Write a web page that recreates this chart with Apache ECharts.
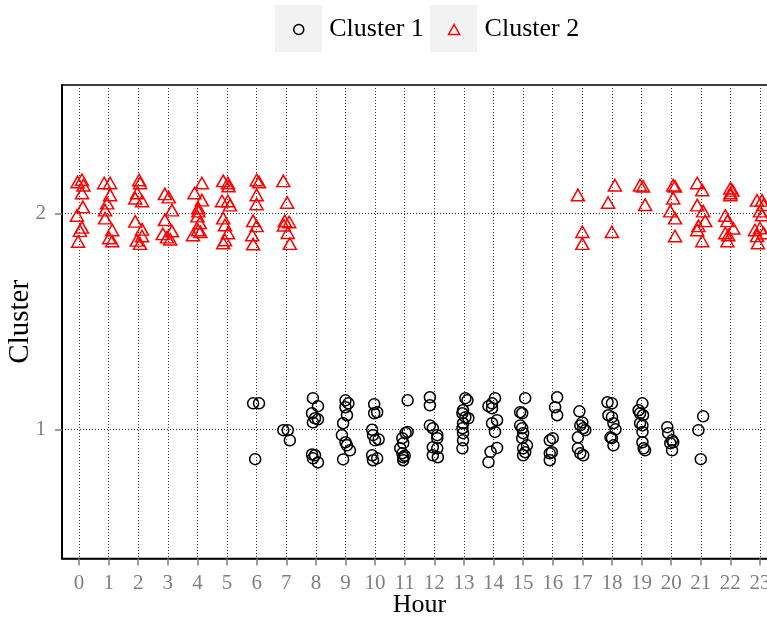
<!DOCTYPE html>
<html>
<head>
<meta charset="utf-8">
<script src="https://cdn.jsdelivr.net/npm/echarts@6/dist/echarts.min.js"></script>
<style>
  html, body { margin: 0; padding: 0; background: #fff; }
  #chart { width: 767px; height: 622px; }
</style>
</head>
<body>
<div id="chart"></div>
<script>
// Hour of day shown on the x axis
const hours = [0, 1, 2, 3, 4, 5, 6, 7, 8, 9, 10, 11, 12, 13, 14, 15, 16, 17, 18, 19, 20, 21, 22, 23];
// Cluster ids shown on the y axis
const clusterTicks = [1, 2];
const seriesNames = ['Cluster 1', 'Cluster 2'];

// Jittered observations: [hour, cluster]
const cluster1Points = [
  [5.88, 1.122], [6.08, 1.122], [5.95, 0.864],
  [6.90, 0.998], [7.05, 0.998], [7.12, 0.951],
  [7.90, 1.146], [8.07, 1.109], [7.87, 1.076], [7.97, 1.053], [8.07, 1.048], [7.90, 1.034], [7.87, 0.886], [7.97, 0.882], [7.90, 0.868], [8.07, 0.849],
  [9.00, 1.136], [9.10, 1.122], [9.00, 1.104], [9.05, 1.067], [8.92, 1.030], [8.88, 0.975], [9.00, 0.942], [9.05, 0.928], [9.15, 0.905], [8.92, 0.863],
  [9.97, 1.118], [10.07, 1.081], [9.97, 1.076], [9.90, 1.000], [9.93, 0.975], [10.00, 0.951], [9.90, 0.882], [10.07, 0.868], [9.93, 0.859], [10.12, 0.955],
  [11.10, 1.136], [11.10, 0.990], [11.03, 0.985], [10.92, 0.961], [10.95, 0.938], [10.85, 0.915], [10.92, 0.891], [10.95, 0.873], [10.95, 0.859], [11.00, 0.880],
  [11.85, 1.150], [11.85, 1.113], [11.85, 1.020], [11.95, 1.007], [12.10, 0.975], [12.10, 0.961], [11.95, 0.919], [12.10, 0.914], [11.95, 0.882], [12.12, 0.873],
  [13.05, 1.146], [13.12, 1.136], [12.97, 1.090], [12.95, 1.076], [13.05, 1.058], [13.15, 1.053], [12.97, 1.030], [12.95, 1.007], [12.97, 0.984], [12.97, 0.951], [12.95, 0.914],
  [14.05, 1.146], [13.95, 1.122], [13.83, 1.109], [13.95, 1.099], [14.12, 1.044], [13.95, 1.030], [14.05, 0.990], [13.90, 0.898], [14.12, 0.916], [13.83, 0.850],
  [15.07, 1.146], [14.90, 1.081], [14.97, 1.076], [14.90, 1.020], [14.97, 1.007], [15.00, 0.984], [14.97, 0.961], [15.13, 0.928], [15.00, 0.914], [15.07, 0.896], [15.00, 0.882],
  [16.15, 1.150], [16.08, 1.104], [16.15, 1.067], [16.00, 0.961], [15.90, 0.951], [15.97, 0.896], [15.90, 0.891], [15.90, 0.859],
  [16.90, 1.085], [17.00, 1.034], [16.93, 1.020], [17.03, 1.007], [17.10, 0.998], [16.85, 0.965], [16.85, 0.914], [16.93, 0.891], [17.03, 0.882],
  [17.85, 1.127], [18.00, 1.122], [17.88, 1.067], [18.00, 1.058], [18.05, 1.030], [18.12, 1.002], [17.95, 0.965], [18.00, 0.961], [18.05, 0.928],
  [19.03, 1.122], [18.90, 1.090], [18.95, 1.076], [19.05, 1.067], [18.95, 1.030], [19.03, 1.020], [19.03, 0.990], [19.03, 0.942], [19.12, 0.905], [19.07, 0.914],
  [19.87, 1.012], [19.90, 0.984], [20.03, 0.951], [20.07, 0.942], [19.97, 0.938], [20.03, 0.905],
  [21.08, 1.062], [20.92, 0.998], [21.00, 0.864]
];

const cluster2Points = [
  [-0.05, 2.145], [0.10, 2.155], [0.15, 2.130], [0.10, 2.094], [0.13, 2.030], [-0.07, 1.990], [0.10, 1.935], [0.03, 1.920], [-0.03, 1.870],
  [0.85, 2.140], [1.05, 2.140], [1.05, 2.085], [0.95, 2.047], [0.88, 2.015], [0.88, 1.978], [1.12, 1.923], [1.02, 1.886], [1.12, 1.872],
  [2.03, 2.154], [2.06, 2.140], [1.96, 2.094], [1.90, 2.070], [2.13, 2.057], [1.90, 1.963], [2.13, 1.926], [2.13, 1.895], [2.06, 1.860], [1.95, 1.875],
  [2.90, 2.090], [3.03, 2.075], [3.14, 2.015], [2.90, 1.970], [3.14, 1.918], [2.83, 1.905], [2.97, 1.890], [3.08, 1.880],
  [4.15, 2.140], [3.90, 2.094], [4.15, 2.061], [4.03, 2.024], [4.03, 2.010], [4.00, 1.987], [4.08, 1.956], [4.02, 1.923], [3.85, 1.900], [4.10, 1.915],
  [4.87, 2.150], [5.03, 2.140], [5.05, 2.126], [4.83, 2.057], [5.03, 2.057], [5.10, 2.038], [4.87, 1.978], [4.93, 1.946], [5.03, 1.909], [4.93, 1.877], [4.87, 1.863],
  [6.00, 2.154], [6.08, 2.145], [6.00, 2.085], [6.00, 2.043], [5.88, 1.965], [6.00, 1.942], [5.85, 1.900], [5.88, 1.858],
  [6.90, 2.150], [7.03, 2.050], [6.95, 1.965], [7.10, 1.960], [6.92, 1.945], [7.05, 1.910], [7.12, 1.860],
  [16.85, 2.085], [17.00, 1.915], [17.00, 1.860],
  [18.10, 2.130], [17.87, 2.050], [18.00, 1.915],
  [18.95, 2.130], [19.05, 2.125], [19.12, 2.040],
  [20.07, 2.130], [20.13, 2.125], [20.07, 2.070], [19.97, 2.010], [20.13, 1.978], [20.13, 1.895],
  [20.88, 2.140], [21.05, 2.108], [20.88, 2.038], [21.08, 2.010], [21.15, 1.965], [20.92, 1.942], [20.88, 1.923], [21.05, 1.872],
  [22.00, 2.116], [22.07, 2.106], [22.00, 2.094], [22.00, 2.085], [21.83, 1.990], [21.90, 1.965], [22.10, 1.931], [21.83, 1.909], [21.93, 1.900], [21.90, 1.872],
  [22.90, 2.060], [23.07, 2.060], [23.12, 2.040], [23.00, 2.010], [23.07, 1.992], [22.83, 1.923], [23.00, 1.932], [22.90, 1.896], [22.93, 1.863], [23.12, 1.909]
];

const SERIF = "'Liberation Serif', 'DejaVu Serif', serif";
const GREY = '#7f7f7f';
const gridLine = { color: '#333', width: 1, type: [1, 2] };

const chart = echarts.init(document.getElementById('chart'), null, { renderer: 'canvas' });

chart.setOption({
  animation: false,
  backgroundColor: '#fff',
  textStyle: { fontFamily: SERIF },
  // grey key backgrounds behind the legend symbols
  graphic: [
    { type: 'rect', left: 275, top: 5, z: 0, shape: { width: 47, height: 47 }, style: { fill: '#f2f2f2' } },
    { type: 'rect', left: 430, top: 5, z: 0, shape: { width: 47, height: 47 }, style: { fill: '#f2f2f2' } }
  ],
  legend: {
    z: 10,
    left: 288,
    top: 11.5,
    padding: 5,
    orient: 'horizontal',
    itemWidth: 11,
    itemHeight: 10,
    itemGap: 24,
    symbolKeepAspect: true,
    textStyle: { fontFamily: SERIF, fontSize: 26, color: '#000', padding: [0, 0, 0, 20] },
    data: [
      { name: seriesNames[0], icon: 'circle', itemStyle: { color: 'rgba(0,0,0,0)', borderColor: '#000', borderWidth: 1.5 } },
      { name: seriesNames[1], icon: 'triangle', itemStyle: { color: 'rgba(0,0,0,0)', borderColor: '#ff0000', borderWidth: 1.5 } }
    ]
  },
  grid: {
    left: 62,
    top: 85,
    right: -10,
    bottom: 63.5,
    show: true,
    borderColor: '#000',
    borderWidth: 1.5,
    backgroundColor: '#fff',
    containLabel: false,
    outerBoundsMode: 'none'
  },
  xAxis: {
    type: 'value',
    min: -0.575,
    max: 23.575,
    splitNumber: 24,
    minInterval: 1,
    maxInterval: 1,
    name: 'Hour',
    nameLocation: 'middle',
    nameGap: 34,
    nameMoveOverlap: false,
    nameTextStyle: { fontFamily: SERIF, fontSize: 26, color: '#000' },
    axisLine: { show: true, onZero: false, lineStyle: { color: '#000', width: 1.5 } },
    axisTick: { show: true, customValues: hours, length: 7, lineStyle: { color: GREY, width: 1.5 } },
    axisLabel: {
      customValues: hours,
      margin: 14,
      fontFamily: SERIF,
      fontSize: 21,
      color: GREY,
      formatter: v => String(v)
    },
    splitLine: { show: true, lineStyle: gridLine }
  },
  yAxis: {
    type: 'value',
    min: 0.405,
    max: 2.593,
    splitNumber: 2,
    minInterval: 1,
    maxInterval: 1,
    name: 'Cluster',
    nameLocation: 'middle',
    nameGap: 27,
    nameMoveOverlap: false,
    nameTextStyle: { fontFamily: SERIF, fontSize: 29, color: '#000' },
    axisLine: { show: true, onZero: false, lineStyle: { color: '#000', width: 2 } },
    axisTick: { show: true, customValues: clusterTicks, length: 7, lineStyle: { color: GREY, width: 1.5 } },
    axisLabel: {
      customValues: clusterTicks,
      margin: 16,
      fontFamily: SERIF,
      fontSize: 21,
      color: GREY,
      formatter: v => String(v)
    },
    splitLine: { show: true, lineStyle: gridLine }
  },
  series: [
    {
      name: seriesNames[0],
      type: 'scatter',
      data: cluster1Points,
      symbol: 'circle',
      symbolSize: 11,
      itemStyle: { color: 'rgba(0,0,0,0)', borderColor: '#000', borderWidth: 1.5, opacity: 1 },
      emphasis: { disabled: true },
      z: 3
    },
    {
      name: seriesNames[1],
      type: 'scatter',
      data: cluster2Points,
      symbol: 'triangle',
      symbolSize: [13, 11.5],
      itemStyle: { color: 'rgba(0,0,0,0)', borderColor: '#ff0000', borderWidth: 1.5, opacity: 1 },
      emphasis: { disabled: true },
      z: 3
    }
  ]
});
</script>
</body>
</html>
